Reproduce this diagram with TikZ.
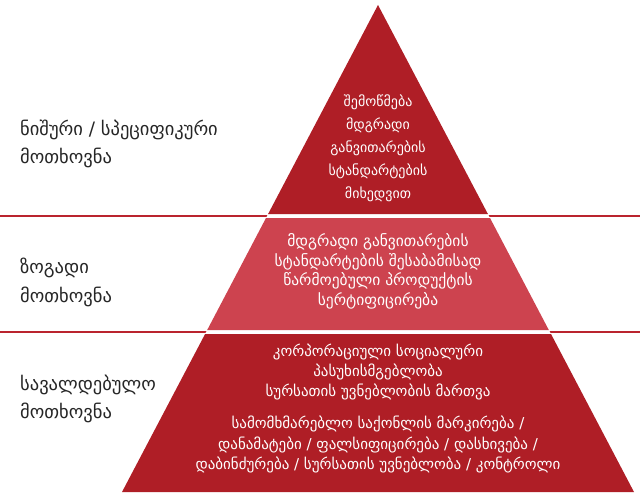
\documentclass[tikz,border=0pt]{standalone}
\usepackage{fontspec}
\setmainfont{DejaVu Sans}
\usetikzlibrary{positioning}
\definecolor{pyrdark}{RGB}{175,30,38}
\definecolor{pyrmid}{RGB}{205,67,79}
\definecolor{pyrline}{RGB}{186,36,46}

\begin{document}
\begin{tikzpicture}[x=1pt, y=-1pt,
        bandtext/.style={text=white, align=center, inner sep=0pt},
        sidelabel/.style={anchor=west, align=left, text=black!85, inner sep=0pt, font=\fontsize{18.5}{28.5}\selectfont}]
        \useasboundingbox (0,0) rectangle (640,495);
        % separator lines
        \draw[pyrline, line width=2.2pt] (0,216) -- (640,216);
        \draw[pyrline, line width=2.2pt] (0,332) -- (640,332);
        \fill[white] (378,5) -- (634,492) -- (122,492) -- cycle;
        % pyramid
        \fill[pyrdark] (378,5) -- (487.9,214) -- (268.1,214) -- cycle;
        \fill[pyrmid] (266.0,218) -- (490.0,218) -- (548.8,330) -- (207.2,330) -- cycle;
        \fill[pyrdark] (205.1,334) -- (551.0,334) -- (634,492) -- (122,492) -- cycle;
        % texts in the bands
        \node[bandtext, font=\fontsize{14}{23}\selectfont] (tiptext) at (378,148.5)
            {შემოწმება\\მდგრადი\\განვითარების\\სტანდარტების\\მიხედვით};
        \node[bandtext, font=\fontsize{15.5}{19.5}\selectfont] (midtext) at (378,271.5)
            {მდგრადი განვითარების\\სტანდარტების შესაბამისად\\წარმოებული პროდუქტის\\სერტიფიცირება};
        \node[bandtext, font=\fontsize{15}{20}\selectfont] (csrtext) at (378,372)
            {კორპორაციული სოციალური\\პასუხისმგებლობა\\სურსათის უვნებლობის მართვა};
        \node[bandtext, font=\fontsize{15}{20.5}\selectfont, below=16pt of csrtext] (labeltext)
            {სამომხმარებლო საქონლის მარკირება /\\დანამატები / ფალსიფიცირება / დასხივება /\\დაბინძურება / სურსათის უვნებლობა / კონტროლი};
        % side labels
        \node[sidelabel] (niche) at (20,144) {ნიშური / სპეციფიკური\\მოთხოვნა};
        \node[sidelabel] (general) at (20,282.5) {ზოგადი\\მოთხოვნა};
        \node[sidelabel] (mandatory) at (20,399) {სავალდებულო\\მოთხოვნა};
\end{tikzpicture}
\end{document}
